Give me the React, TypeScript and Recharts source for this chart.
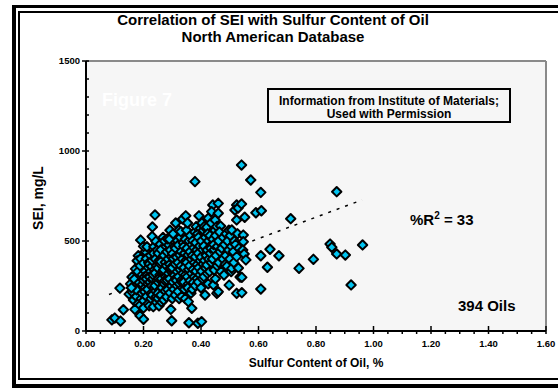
import { ScatterChart, Scatter, XAxis, YAxis, CartesianGrid, ReferenceLine } from "recharts";

type Oil = [number, number]; // [sulfur %, SEI mg/L]

const oilsBelow020: Oil[] = [
  [0.09, 62], [0.1, 72], [0.12, 55], [0.118, 238], [0.13, 118], [0.15, 205], [0.155, 262],
  [0.16, 218], [0.165, 172], [0.16, 300], [0.172, 345], [0.17, 250], [0.175, 192], [0.168, 288],
  [0.182, 418], [0.178, 390], [0.188, 85], [0.18, 150], [0.185, 268], [0.18, 330], [0.176, 228],
  [0.19, 505], [0.2, 65], [0.192, 180], [0.195, 312], [0.188, 362], [0.196, 258], [0.19, 402],
  [0.194, 210], [0.186, 140], [0.17, 120], [0.158, 240],
];

const oils020to030: Oil[] = [
  [0.2, 168], [0.205, 240], [0.2, 282], [0.206, 332], [0.2, 378], [0.203, 300], [0.207, 442], [0.2, 128], [0.204, 218], [0.2, 470],
  [0.21, 192], [0.215, 262], [0.212, 310], [0.217, 352], [0.21, 402], [0.214, 232], [0.21, 290], [0.216, 152], [0.212, 468], [0.218, 380],
  [0.22, 140], [0.226, 208], [0.222, 272], [0.225, 330], [0.22, 372], [0.224, 420], [0.228, 250], [0.221, 300], [0.226, 180], [0.228, 358],
  [0.23, 525], [0.231, 578], [0.236, 468], [0.234, 135], [0.23, 200], [0.237, 242], [0.232, 290], [0.238, 340], [0.23, 392], [0.235, 432], [0.233, 312],
  [0.24, 645], [0.245, 160], [0.242, 222], [0.247, 280], [0.24, 322], [0.246, 362], [0.241, 400], [0.248, 450], [0.243, 498], [0.24, 252], [0.244, 190],
  [0.25, 182], [0.256, 230], [0.252, 270], [0.257, 312], [0.25, 350], [0.255, 392], [0.251, 432], [0.258, 482], [0.253, 292], [0.25, 210], [0.254, 140],
  [0.26, 200], [0.266, 250], [0.262, 290], [0.267, 332], [0.26, 370], [0.265, 410], [0.261, 452], [0.268, 520], [0.264, 240], [0.263, 160], [0.26, 385],
  [0.27, 172], [0.275, 222], [0.272, 262], [0.277, 302], [0.27, 340], [0.276, 382], [0.271, 420], [0.278, 470], [0.273, 500], [0.274, 280],
  [0.28, 190], [0.286, 242], [0.282, 282], [0.287, 320], [0.28, 362], [0.285, 400], [0.281, 440], [0.288, 478], [0.283, 512], [0.284, 230],
  [0.29, 510], [0.295, 120], [0.292, 212], [0.297, 250], [0.29, 290], [0.296, 332], [0.291, 370], [0.298, 412], [0.293, 450], [0.294, 350], [0.292, 560],
];

const oils030to040: Oil[] = [
  [0.298, 57], [0.3, 180], [0.305, 232], [0.302, 272], [0.307, 310], [0.3, 352], [0.306, 392], [0.301, 430], [0.308, 470], [0.303, 540], [0.304, 402],
  [0.31, 200], [0.316, 252], [0.312, 292], [0.317, 330], [0.31, 372], [0.315, 410], [0.311, 460], [0.318, 502], [0.314, 282], [0.312, 600],
  [0.32, 220], [0.325, 262], [0.322, 302], [0.327, 342], [0.32, 380], [0.326, 422], [0.321, 478], [0.328, 520], [0.323, 560], [0.324, 180],
  [0.33, 552], [0.336, 240], [0.332, 282], [0.337, 320], [0.33, 362], [0.335, 400], [0.331, 442], [0.338, 490], [0.334, 270], [0.333, 192],
  [0.336, 622], [0.347, 640], [0.345, 180], [0.342, 232], [0.34, 272], [0.346, 312], [0.341, 352], [0.348, 392], [0.343, 432], [0.34, 470], [0.345, 510],
  [0.35, 560], [0.356, 262], [0.352, 302], [0.357, 342], [0.35, 380], [0.355, 422], [0.351, 460], [0.358, 500], [0.354, 240], [0.353, 600],
  [0.356, 163], [0.358, 46], [0.365, 210], [0.362, 280], [0.367, 320], [0.36, 362], [0.366, 400], [0.361, 440], [0.368, 480], [0.363, 530],
  [0.368, 126], [0.37, 232], [0.376, 300], [0.372, 342], [0.377, 380], [0.37, 420], [0.375, 462], [0.371, 502], [0.378, 550], [0.373, 270],
  [0.379, 830], [0.38, 252], [0.386, 292], [0.382, 332], [0.387, 370], [0.38, 412], [0.385, 450], [0.381, 490], [0.388, 540], [0.383, 580],
  [0.389, 43], [0.39, 272], [0.396, 312], [0.392, 352], [0.397, 390], [0.39, 432], [0.395, 472], [0.391, 520], [0.398, 570], [0.393, 640],
];

const oils040to050: Oil[] = [
  [0.402, 52], [0.4, 240], [0.405, 290], [0.402, 332], [0.407, 372], [0.4, 410], [0.406, 452], [0.401, 500], [0.408, 560], [0.403, 600],
  [0.414, 200], [0.41, 302], [0.416, 350], [0.412, 392], [0.417, 430], [0.41, 472], [0.415, 520], [0.411, 580], [0.418, 420],
  [0.42, 576], [0.42, 367], [0.425, 262], [0.422, 320], [0.427, 400], [0.421, 450], [0.426, 500], [0.423, 540], [0.425, 626],
  [0.443, 256], [0.43, 330], [0.436, 380], [0.432, 432], [0.437, 480], [0.431, 530], [0.435, 600], [0.434, 460],
  [0.441, 700], [0.437, 663], [0.446, 339], [0.455, 209], [0.44, 400], [0.446, 452], [0.441, 510], [0.448, 560], [0.444, 480],
  [0.449, 617], [0.45, 290], [0.456, 362], [0.452, 420], [0.457, 470], [0.451, 530], [0.455, 580],
  [0.46, 709], [0.46, 654], [0.46, 218], [0.468, 583], [0.462, 380], [0.466, 440], [0.461, 500], [0.464, 550],
  [0.47, 330], [0.476, 400], [0.472, 460], [0.477, 520],
  [0.48, 311], [0.486, 420], [0.482, 480], [0.487, 540], [0.484, 370],
  [0.49, 360], [0.496, 450], [0.492, 500], [0.497, 560],
];

const oilsAbove050: Oil[] = [
  [0.5, 400], [0.506, 470], [0.502, 530], [0.498, 255], [0.505, 330],
  [0.507, 561], [0.507, 348], [0.512, 440], [0.516, 500], [0.514, 380],
  [0.524, 700], [0.518, 672], [0.524, 617], [0.524, 413], [0.524, 209], [0.52, 480], [0.527, 540],
  [0.529, 683], [0.532, 460], [0.536, 300], [0.53, 350],
  [0.541, 922], [0.541, 706], [0.547, 533], [0.542, 298], [0.542, 213], [0.547, 496], [0.545, 450],
  [0.552, 632], [0.55, 428], [0.556, 395],
  [0.573, 839], [0.591, 657], [0.608, 770], [0.61, 668], [0.608, 418], [0.608, 233],
  [0.631, 354], [0.64, 454], [0.671, 418], [0.712, 624], [0.741, 348], [0.791, 398],
  [0.849, 483], [0.855, 465], [0.872, 774], [0.872, 428], [0.902, 422], [0.922, 256], [0.962, 478],
];

const trendSulfur = [0.08, 0.96];
const trendSei = [203, 728];

const xTicks = Array.from({ length: 33 }, (_, i) => Math.round(i * 5) / 100);
const xLabelStep = 0.2;
const yTicks = Array.from({ length: 16 }, (_, i) => i * 100);
const yLabelStep = 500;

const oils = [...oilsBelow020, ...oils020to030, ...oils030to040, ...oils040to050, ...oilsAbove050].map(
  ([x, y]) => ({ x, y })
);
const trend = trendSulfur.map((x, i) => ({ x, y: trendSei[i] }));

const FONT = "'Liberation Sans', Arial, Helvetica, sans-serif";
const TICK_SIZE = 4;
const TICK_MARGIN = 2;

function Diamond(props: any) {
  const { cx, cy } = props;
  if (cx == null || cy == null) return <g />;
  const r = 4.7;
  return (
    <path
      d={`M${cx},${cy - r}L${cx + r},${cy}L${cx},${cy + r}L${cx - r},${cy}Z`}
      fill="#00c3ef"
      stroke="#000"
      strokeWidth={2}
      strokeLinejoin="round"
    />
  );
}

function XTick(props: any) {
  const { x, y, payload } = props;
  const axisY = y - TICK_SIZE - TICK_MARGIN;
  const v = payload.value as number;
  const major = Math.abs(v / xLabelStep - Math.round(v / xLabelStep)) < 1e-6;
  return (
    <g>
      <line x1={x} x2={x} y1={major ? axisY - 5 : axisY} y2={axisY + 3} stroke="#000" strokeWidth={1.5} />
      {major && (
        <text x={x} y={axisY + 15.5} textAnchor="middle" fontSize={9.5} fontWeight="bold" fontFamily={FONT} fill="#000">
          {v.toFixed(2)}
        </text>
      )}
    </g>
  );
}

function YTick(props: any) {
  const { x, y, payload } = props;
  const axisX = x + TICK_SIZE + TICK_MARGIN;
  const v = payload.value as number;
  const major = v % yLabelStep === 0;
  return (
    <g>
      <line x1={major ? axisX - 4 : axisX} x2={axisX + 3} y1={y} y2={y} stroke="#000" strokeWidth={1.5} />
      {major && (
        <text x={axisX - 6} y={y + 3.3} textAnchor="end" fontSize={9.5} fontWeight="bold" fontFamily={FONT} fill="#000">
          {v}
        </text>
      )}
    </g>
  );
}

export default function App() {
  const bold = { fontFamily: FONT, fontWeight: "bold" as const };
  return (
    <div style={{ position: "absolute", left: 0, top: 0, width: 558, height: 388, background: "#fff", overflow: "hidden" }}>
      {/* double frame */}
      <svg width={558} height={388} style={{ position: "absolute", left: 0, top: 0 }}>
        <rect x={12} y={5} width={600} height={383} fill="#000" />
        <rect x={16} y={8} width={600} height={376} fill="#fff" />
        <rect x={18} y={11} width={600} height={369} fill="#000" />
        <rect x={20} y={13} width={600} height={365} fill="#fff" />
      </svg>

      <div style={{ position: "absolute", left: 0, top: 0 }}>
        <ScatterChart width={558} height={388} margin={{ top: 61, right: 12, bottom: 27, left: 46 }}>
          <CartesianGrid horizontal={false} vertical={false} fill="#f6f6f6" />
          <XAxis
            type="number"
            dataKey="x"
            domain={[0, 1.6]}
            ticks={xTicks}
            interval={0}
            height={30}
            tick={<XTick />}
            tickLine={false}
            tickSize={TICK_SIZE}
            tickMargin={TICK_MARGIN}
            axisLine={{ stroke: "#000", strokeWidth: 2 }}
            allowDataOverflow
          />
          <YAxis
            type="number"
            dataKey="y"
            domain={[0, 1500]}
            ticks={yTicks}
            interval={0}
            width={40}
            tick={<YTick />}
            tickLine={false}
            tickSize={TICK_SIZE}
            tickMargin={TICK_MARGIN}
            axisLine={{ stroke: "#000", strokeWidth: 2 }}
            allowDataOverflow
          />
          <ReferenceLine y={1500} stroke="#8a8a8a" strokeWidth={2} />
          <ReferenceLine x={1.6} stroke="#8a8a8a" strokeWidth={2} />
          <Scatter
            data={trend}
            line={{ stroke: "#000", strokeWidth: 1.5, strokeDasharray: "3 6" }}
            shape={() => <g />}
            isAnimationActive={false}
          />
          <Scatter data={oils} shape={Diamond} isAnimationActive={false} />
        </ScatterChart>
      </div>

      {/* texts */}
      <svg width={558} height={388} style={{ position: "absolute", left: 0, top: 0, pointerEvents: "none" }}>
        <text x={273} y={25} textAnchor="middle" fontSize={15} {...bold}>
          Correlation of SEI with Sulfur Content of Oil
        </text>
        <text x={273} y={42} textAnchor="middle" fontSize={15} {...bold}>
          North American Database
        </text>
        <text x={102} y={106} fontSize={18} fill="#fff" {...bold}>
          Figure 7
        </text>
        <rect x={268} y={89} width={242} height={33} fill="#f6f6f6" stroke="#000" strokeWidth={2} />
        <text x={389} y={105} textAnchor="middle" fontSize={12} {...bold}>
          Information from Institute of Materials;
        </text>
        <text x={389} y={118} textAnchor="middle" fontSize={12} {...bold}>
          Used with Permission
        </text>
        <text x={410} y={225} fontSize={15} {...bold}>
          %R
          <tspan fontSize={10} dy={-6}>2</tspan>
          <tspan dy={6}> = 33</tspan>
        </text>
        <text x={458} y={311} fontSize={15} {...bold}>
          394 Oils
        </text>
        <text x={316} y={367} textAnchor="middle" fontSize={12} {...bold}>
          Sulfur Content of Oil, %
        </text>
        <text transform="translate(43,198) rotate(-90)" textAnchor="middle" fontSize={14} {...bold}>
          SEI, mg/L
        </text>
      </svg>
    </div>
  );
}
